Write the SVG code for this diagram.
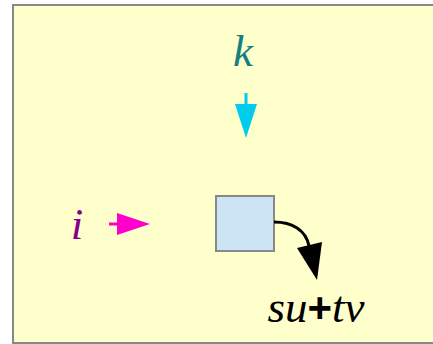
<svg xmlns="http://www.w3.org/2000/svg" width="433" height="344" viewBox="0 0 433 344">
<style>
.lbl{font-family:"Liberation Serif","Times New Roman",serif;font-style:italic;font-size:45px}
</style>
<rect x="13" y="5" width="440" height="338" fill="#ffffcc" stroke="#888888" stroke-width="2"/>
<g id="node-k"><text class="lbl" x="243" y="66" text-anchor="middle" fill="#147f7f">k</text></g>
<g id="node-i"><text class="lbl" x="77" y="239" text-anchor="middle" fill="#880088">i</text></g>
<g id="node-box"><rect x="216" y="196" width="58" height="55" fill="#cde4f4" stroke="#888888" stroke-width="2"/></g>
<g id="node-out"><text class="lbl" x="316" y="322" text-anchor="middle" fill="#000">su<tspan font-style="normal" font-weight="bold" font-family="Liberation Sans, sans-serif" font-size="42">+</tspan>tv</text></g>
<g id="connectors">
<line x1="246" y1="93" x2="246" y2="106" stroke="#00ccee" stroke-width="3"/>
<polygon points="235,104 257,104 246,138" fill="#00ccee"/>
<line x1="109" y1="224" x2="119" y2="224" stroke="#ff00cc" stroke-width="3"/>
<polygon points="117,213 117,235 150,224" fill="#ff00cc"/>
<path d="M274,222 C292,222 306,230 309,246" fill="none" stroke="#000" stroke-width="3"/>
<polygon points="297,248 322,242 317,280" fill="#000"/>
</g>
</svg>
